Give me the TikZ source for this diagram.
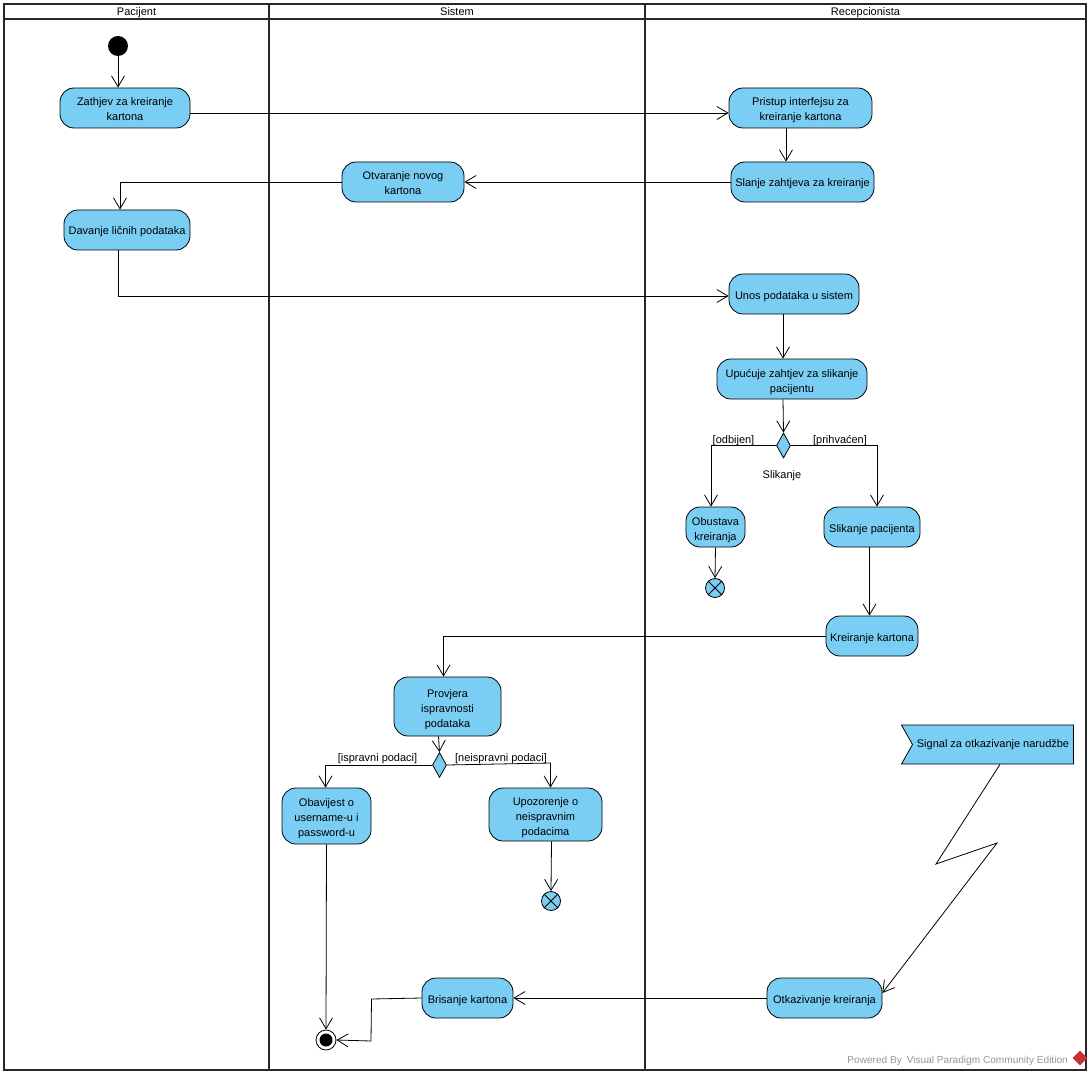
\documentclass[tikz,border=0pt]{standalone}
\usepackage{fontspec}
\setmainfont{Liberation Sans}
\usetikzlibrary{arrows.meta, shapes.geometric, shapes.symbols}
\definecolor{actcol}{RGB}{122, 206, 244}
\definecolor{lanecol}{RGB}{40, 40, 40}
\definecolor{markcol}{RGB}{150, 150, 150}
\definecolor{logocol}{RGB}{200, 50, 50}

\begin{document}
\begin{tikzpicture}[x=1pt, y=-1pt,
    act/.style={rectangle, draw=black, fill=actcol, rounded corners=14pt, inner sep=0pt, line width=0.8pt, align=center, font=\fontsize{11}{15}\selectfont,
        execute at begin node={\rule{0pt}{13pt}}, execute at end node={\rule[-3pt]{0pt}{0pt}}},
    multi/.style={execute at begin node={\rule{0pt}{#1}}},
    dec/.style={diamond, draw=black, fill=actcol, inner sep=0pt, line width=0.8pt, minimum width=14pt, minimum height=25pt},
    startnd/.style={circle, fill=black, inner sep=0pt, minimum size=20pt},
    flowend/.style={circle, draw=black, fill=actcol, inner sep=0pt, line width=0.8pt, minimum size=19pt},
    lanehead/.style={rectangle, draw=lanecol, line width=1.8pt, inner sep=0pt, minimum height=15pt, text height=11pt, text depth=2pt, font=\fontsize{11}{12}\selectfont},
    lanebody/.style={rectangle, draw=lanecol, line width=1.8pt, inner sep=0pt},
    lbl/.style={inner sep=0pt, text height=11pt, text depth=2pt, font=\fontsize{11}{12}\selectfont},
    edge/.style={-{Straight Barb[length=11pt, width=13pt]}, line width=0.8pt}]

    \useasboundingbox (0,0) rectangle (1092,1075);
    \fill[white] (0,0) rectangle (1092,1075);

    \node[lanebody, minimum width=265pt, minimum height=1066pt] (bodypac) at (136.5,537) {};
    \node[lanebody, minimum width=376pt, minimum height=1066pt] (bodysis) at (457,537) {};
    \node[lanebody, minimum width=441pt, minimum height=1066pt] (bodyrec) at (865.5,537) {};
    \node[lanehead, minimum width=265pt] (headpac) at (136.5,11.5) {Pacijent};
    \node[lanehead, minimum width=376pt] (headsis) at (457,11.5) {Sistem};
    \node[lanehead, minimum width=441pt] (headrec) at (865.5,11.5) {Recepcionista};

    \node[startnd] (start) at (118,46) {};
    \node[act, multi=29pt, minimum width=130pt, minimum height=40pt] (zahtjev) at (125,108) {Zathjev za kreiranje\\kartona};
    \node[act, minimum width=126pt, minimum height=40pt] (davanje) at (127,230) {Davanje ličnih podataka};

    \node[act, multi=29pt, minimum width=122pt, minimum height=40pt] (otvaranje) at (403,182) {Otvaranje novog\\kartona};
    \node[act, multi=44pt, minimum width=107pt, minimum height=59pt] (provjera) at (447.5,706.5) {Provjera\\ispravnosti\\podataka};
    \node[dec] (odluka2) at (439.5,765) {};
    \node[act, multi=44pt, minimum width=89pt, minimum height=56pt] (obavijest) at (326.5,816) {Obavijest o\\username-u i\\password-u};
    \node[act, multi=44pt, minimum width=113pt, minimum height=53pt] (upozorenje) at (545.5,814.5) {Upozorenje o\\neispravnim\\podacima};
    \node[flowend] (kraj2) at (551,901) {};
    \node[act, minimum width=91pt, minimum height=40pt] (brisanje) at (467.5,998) {Brisanje kartona};
    \node[circle, draw=black, fill=white, inner sep=0pt, line width=0.8pt, minimum size=20pt] (kraj) at (326,1040) {};
    \node[startnd, minimum size=13pt] (krajin) at (326,1040) {};

    \node[act, multi=29pt, minimum width=143pt, minimum height=40pt] (pristup) at (800.5,108) {Pristup interfejsu za\\kreiranje kartona};
    \node[act, minimum width=143pt, minimum height=40pt] (slanje) at (802.5,182) {Slanje zahtjeva za kreiranje};
    \node[act, minimum width=130pt, minimum height=40pt] (unos) at (794,294) {Unos podataka u sistem};
    \node[act, multi=29pt, minimum width=150pt, minimum height=40pt] (upucuje) at (792,379) {Upućuje zahtjev za slikanje\\pacijentu};
    \node[dec] (odluka1) at (783.5,445.5) {};
    \node[lbl] (slikanje) at (782,474) {Slikanje};
    \node[act, multi=29pt, minimum width=59pt, minimum height=40pt] (obustava) at (715.5,527) {Obustava\\kreiranja};
    \node[flowend] (kraj1) at (715,588) {};
    \node[act, minimum width=96pt, minimum height=40pt] (slikpac) at (872,527) {Slikanje pacijenta};
    \node[act, minimum width=92pt, minimum height=40pt] (kreiranje) at (872,636) {Kreiranje kartona};
    \node[signal, signal to=nowhere, signal from=west, signal pointer angle=121, draw=black, fill=actcol, inner sep=0pt, line width=0.8pt, minimum width=172pt, minimum height=39pt, font=\fontsize{11}{12}\selectfont] (signal) at (993,744.5) {Signal za otkazivanje narudžbe};
    \node[act, minimum width=115pt, minimum height=40pt] (otkaz) at (824.5,998) {Otkazivanje kreiranja};

    \draw[line width=0.8pt] (kraj1.north west) -- (kraj1.south east) (kraj1.north east) -- (kraj1.south west);
    \draw[line width=0.8pt] (kraj2.north west) -- (kraj2.south east) (kraj2.north east) -- (kraj2.south west);

    \coordinate (bend2) at (550.5,763);
    \coordinate (bend3) at (371.5,999);
    \coordinate (bend4) at (371,1041);
    \coordinate (zig1) at (936,864);
    \coordinate (zig2) at (997,843);

    \draw[edge] (start) -- (start |- zahtjev.north);
    \draw[edge] ([yshift=-5pt]zahtjev.east) -- ([yshift=-5pt]pristup.west);
    \draw[edge] ([xshift=-14.5pt]pristup.south) -- ([xshift=-16.5pt]slanje.north);
    \draw[edge] (slanje) -- (otvaranje);
    \draw[edge] (otvaranje) -| ([xshift=-7pt]davanje.north);
    \draw[edge] ([xshift=-9pt]davanje.south) |- ([yshift=-2pt]unos.west);
    \draw[edge] ([xshift=-11pt]unos.south) -- ([xshift=-9pt]upucuje.north);
    \draw[edge] ([xshift=-9pt]upucuje.south) -- (odluka1.north);
    \draw[edge] (odluka1.west) -| ([xshift=-4.5pt]obustava.north);
    \draw[edge] (odluka1.east) -| ([xshift=5pt]slikpac.north);
    \draw[edge] (obustava.south) -- (kraj1.north);
    \draw[edge] ([xshift=-2.5pt]slikpac.south) -- ([xshift=-2.5pt]kreiranje.north);
    \draw[edge] (kreiranje.west) -| ([xshift=-4pt]provjera.north);
    \draw[edge] ([xshift=-9pt]provjera.south) -- (odluka2.north);
    \draw[edge] (odluka2.west) -| ([xshift=-1pt]obavijest.north);
    \draw[edge] (odluka2.east) -- (bend2) -- (bend2 |- upozorenje.north);
    \draw[edge] (obavijest.south) -- (kraj.north);
    \draw[edge] ([xshift=6pt]upozorenje.south) -- (kraj2.north);
    \draw[edge] (otkaz) -- (brisanje);
    \draw[edge] (brisanje.west) -- (bend3) -- (bend4) -- (kraj.east);
    \draw[edge] ([xshift=7pt]signal.south) -- (zig1) -- (zig2) -- ([yshift=5pt]otkaz.east);

    \node[lbl] (odbijen) at (733.5,438.5) {[odbijen]};
    \node[lbl] (prihvacen) at (840,438.5) {[prihvaćen]};
    \node[lbl] (ispravni) at (377.5,757) {[ispravni podaci]};
    \node[lbl] (neispravni) at (501,756.5) {[neispravni podaci]};

    \node[lbl, text=markcol, anchor=east, font=\fontsize{10.1}{12}\selectfont] (powered) at (1068,1058.5) {Powered By\hspace{5pt}Visual Paradigm Community Edition};
    \node[diamond, fill=logocol, inner sep=0pt, minimum size=15pt] (logo) at (1080,1058) {};
\end{tikzpicture}
\end{document}
